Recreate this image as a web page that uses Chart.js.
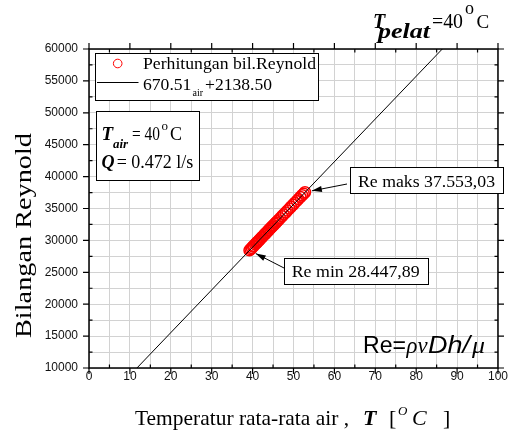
<!DOCTYPE html>
<html>
<head>
<meta charset="utf-8">
<script src="https://cdn.jsdelivr.net/npm/chart.js@4/dist/chart.umd.min.js"></script>
<style>
  html, body { margin: 0; padding: 0; background: #fff; }
  #wrap { width: 509px; height: 436px; }
</style>
</head>
<body>
<div id="wrap"><canvas id="re-chart" width="509" height="436"></canvas></div>
<script>
// measured points (temperatur rata-rata air, bilangan Reynold)
const tempAir = [39.24, 39.5, 39.8, 40.1, 40.3, 40.6, 40.9, 41.1, 41.4, 41.6, 41.9, 42.2, 42.4, 42.7,
    43.0, 43.2, 43.5, 43.8, 44.0, 44.3, 44.6, 44.8, 45.1, 45.4, 45.7, 46.0, 46.3, 46.7, 47.2, 47.6,
    48.1, 48.5, 49.0, 49.4, 49.9, 50.3, 50.8, 51.2, 51.7, 52.1, 52.5, 52.81];
const reynold = [28447.89, 28630, 28810, 29040, 29150, 29380, 29550, 29710, 29880, 30050, 30220, 30450, 30560, 30790,
    30960, 31120, 31290, 31520, 31630, 31860, 32030, 32190, 32370, 32600, 32770, 32990, 33170, 33460, 33780, 34070,
    34380, 34670, 34990, 35270, 35590, 35880, 36190, 36480, 36800, 37080, 37330, 37553.03];

// fitted line end points, Re = 670.51 T + 2138.50
const fitT = [11.72, 86.38];
const fitRe = [10000, 60000];

const xRange = [0, 100];
const yRange = [10000, 60000];

const serif = '"Liberation Serif", "Times New Roman", serif';
const sans = '"Liberation Sans", Arial, sans-serif';

function fmtRe(v) {
    const [a, b] = v.toFixed(2).split('.');
    return a.replace(/\B(?=(\d{3})+(?!\d))/g, '.') + ',' + b;
}

function txt(ctx, str, x, y, font, w) {
    ctx.font = font;
    ctx.save();
    ctx.translate(x, y);
    if (w) ctx.scale(w / ctx.measureText(str).width, 1);
    ctx.fillText(str, 0, 0);
    ctx.restore();
}

function box(ctx, x, y, w, h) {
    ctx.fillStyle = '#fff';
    ctx.fillRect(x, y, w, h);
    ctx.strokeStyle = '#000';
    ctx.lineWidth = 1;
    ctx.strokeRect(x + 0.5, y + 0.5, w, h);
    ctx.fillStyle = '#000';
}

function arrow(ctx, fx, fy, cx, cy, r) {
    const dx = fx - cx, dy = fy - cy;
    const len = Math.hypot(dx, dy);
    const ux = dx / len, uy = dy / len;
    const tx = cx + ux * r, ty = cy + uy * r;
    ctx.strokeStyle = '#000';
    ctx.lineWidth = 1;
    ctx.beginPath();
    ctx.moveTo(fx, fy);
    ctx.lineTo(tx, ty);
    ctx.stroke();
    ctx.beginPath();
    ctx.moveTo(tx, ty);
    ctx.lineTo(tx + ux * 10 - uy * 3, ty + uy * 10 + ux * 3);
    ctx.lineTo(tx + ux * 10 + uy * 3, ty + uy * 10 - ux * 3);
    ctx.closePath();
    ctx.fillStyle = '#000';
    ctx.fill();
}

const decor = {
    id: 'decor',
    afterDatasetsDraw(chart) {
        const ctx = chart.ctx;
        const xs = chart.scales.x, ys = chart.scales.y;
        const a = chart.chartArea;

        // frame + ticks (major out, minor in)
        ctx.save();
        ctx.strokeStyle = '#000';
        ctx.lineWidth = 1.5;
        ctx.strokeRect(a.left, a.top, a.right - a.left, a.bottom - a.top);
        ctx.lineWidth = 1.2;
        ctx.beginPath();
        xs.ticks.forEach(t => {
            const px = xs.getPixelForValue(t.value);
            const major = t.value % 10 === 0;
            ctx.moveTo(px, a.bottom); ctx.lineTo(px, major ? a.bottom + 6 : a.bottom - 3.5);
            ctx.moveTo(px, a.top); ctx.lineTo(px, major ? a.top - 6 : a.top + 3.5);
        });
        ys.ticks.forEach(t => {
            const py = ys.getPixelForValue(t.value);
            const major = t.value % 5000 === 0;
            ctx.moveTo(a.left, py); ctx.lineTo(major ? a.left - 6 : a.left + 3.5, py);
            ctx.moveTo(a.right, py); ctx.lineTo(major ? a.right + 6 : a.right - 3.5, py);
        });
        ctx.stroke();

        ctx.fillStyle = '#000';
        ctx.textBaseline = 'alphabetic';
        ctx.textAlign = 'left';

        // legend
        box(ctx, 95, 53, 223, 47);
        ctx.strokeStyle = '#ff0000';
        ctx.lineWidth = 1;
        ctx.beginPath();
        ctx.arc(117.7, 63.5, 4.3, 0, Math.PI * 2);
        ctx.stroke();
        txt(ctx, 'Perhitungan bil.Reynold', 143, 69, '17.6px ' + serif, 173);
        ctx.strokeStyle = '#000';
        ctx.beginPath();
        ctx.moveTo(97, 82.5); ctx.lineTo(138.5, 82.5);
        ctx.stroke();
        txt(ctx, '670.51', 143, 89.5, '17.6px ' + serif);
        txt(ctx, 'air', 192.5, 96, '10px ' + serif);
        txt(ctx, '+2138.50', 205, 89.5, '17.6px ' + serif, 67);

        // info box
        box(ctx, 96, 111, 103, 69);
        txt(ctx, 'T', 101.5, 140, 'italic bold 19px ' + serif);
        txt(ctx, 'air', 113, 148, 'italic bold 13px ' + serif);
        txt(ctx, '= 40', 132, 140, '18px ' + serif, 28);
        txt(ctx, 'o', 161.5, 130, '13px ' + serif);
        txt(ctx, 'C', 170, 140, '18px ' + serif);
        txt(ctx, 'Q', 101.5, 168, 'italic bold 18px ' + serif);
        txt(ctx, '= 0.472 l/s', 116.7, 168, '18px ' + serif, 76.6);

        // top-right title
        txt(ctx, 'T', 373, 28, 'italic bold 20px ' + serif);
        txt(ctx, 'pelat', 378, 38, 'italic bold 20px ' + serif, 52);
        txt(ctx, '=40', 432, 28, '20px ' + serif, 31);
        txt(ctx, 'o', 465, 13.5, '18px ' + serif);
        txt(ctx, 'C', 476.5, 28, '19px ' + serif);

        // min / max labels
        const iMin = reynold.indexOf(Math.min(...reynold));
        const iMax = reynold.indexOf(Math.max(...reynold));
        const minX = xs.getPixelForValue(tempAir[iMin]), minY = ys.getPixelForValue(reynold[iMin]);
        const maxX = xs.getPixelForValue(tempAir[iMax]), maxY = ys.getPixelForValue(reynold[iMax]);
        arrow(ctx, 347, 184, maxX, maxY, 7);
        arrow(ctx, 284, 268, minX, minY, 7);
        box(ctx, 350, 167, 153, 26);
        txt(ctx, 'Re maks ' + fmtRe(reynold[iMax]), 358, 186.7, '17.7px ' + serif, 137);
        box(ctx, 284, 258, 144, 26);
        txt(ctx, 'Re min ' + fmtRe(reynold[iMin]), 291.7, 276.7, '17.7px ' + serif, 128);

        // formula
        txt(ctx, 'Re=', 363, 353, '23px ' + sans, 43);
        txt(ctx, 'ρν', 406.5, 353, 'italic 23px ' + serif, 21);
        txt(ctx, 'Dh/', 428, 353, 'italic 23px ' + sans, 42);
        txt(ctx, 'μ', 472, 353, 'italic 23px ' + serif, 13);

        // axis titles
        txt(ctx, 'Temperatur rata-rata air ,', 135, 425, '22px ' + serif, 214);
        txt(ctx, 'T', 363, 425, 'italic bold 22px ' + serif);
        txt(ctx, '[', 389, 425, '22px ' + serif);
        txt(ctx, 'O', 398, 415, 'italic 13px ' + serif);
        txt(ctx, 'C', 412, 425, 'italic 22px ' + serif);
        txt(ctx, ']', 443, 425, '22px ' + serif);

        ctx.save();
        ctx.translate(31, 338);
        ctx.rotate(-Math.PI / 2);
        txt(ctx, 'Bilangan Reynold', 0, 0, '24px ' + serif, 205);
        ctx.restore();

        ctx.restore();
    }
};

const ctx = document.getElementById('re-chart').getContext('2d');
new Chart(ctx, {
    type: 'scatter',
    data: {
        datasets: [
            {
                label: '670.51 air +2138.50',
                data: fitT.map((t, i) => ({ x: t, y: fitRe[i] })),
                showLine: true,
                borderColor: '#000',
                borderWidth: 1,
                pointRadius: 0,
                order: 0
            },
            {
                label: 'Perhitungan bil.Reynold',
                data: tempAir.map((t, i) => ({ x: t, y: reynold[i] })),
                showLine: false,
                pointRadius: 5.5,
                pointBorderColor: '#ff0000',
                pointBackgroundColor: 'rgba(255,255,255,0)',
                pointBorderWidth: 1.5,
                order: 1
            }
        ]
    },
    options: {
        responsive: false,
        animation: false,
        layout: { padding: { left: 0, top: 49, right: 7, bottom: 0 } },
        plugins: {
            legend: { display: false },
            tooltip: { enabled: false }
        },
        scales: {
            x: {
                type: 'linear',
                min: xRange[0],
                max: xRange[1],
                border: { display: false },
                grid: { color: '#d2d2d2', lineWidth: 1, drawTicks: false },
                ticks: {
                    stepSize: 5,
                    autoSkip: false,
                    maxRotation: 0,
                    minRotation: 0,
                    padding: 1,
                    color: '#111',
                    font: { family: sans, size: 12 },
                    callback: v => v % 10 === 0 ? v : ''
                },
                afterFit: s => { s.height = 68; }
            },
            y: {
                type: 'linear',
                min: yRange[0],
                max: yRange[1],
                border: { display: false },
                grid: { color: '#d2d2d2', lineWidth: 1, drawTicks: false },
                ticks: {
                    stepSize: 2500,
                    autoSkip: false,
                    padding: 11,
                    color: '#111',
                    font: { family: sans, size: 12 },
                    callback: v => v % 5000 === 0 ? v : ''
                },
                afterFit: s => { s.width = 89; }
            }
        }
    },
    plugins: [decor]
});
</script>
</body>
</html>
